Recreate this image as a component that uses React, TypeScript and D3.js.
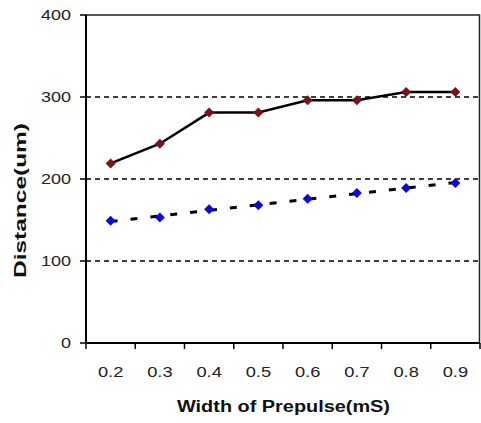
import React from "react";
import * as d3 from "d3";

const categories = ["0.2", "0.3", "0.4", "0.5", "0.6", "0.7", "0.8", "0.9"];
const redSeries = [219, 243, 281, 281, 296, 296, 306, 306];
const blueSeries = [149, 153, 163, 168, 176, 183, 189, 195];
const yTicks = [0, 100, 200, 300, 400];
const gridValues = [100, 200, 300];
const xTitle = "Width of Prepulse(mS)";
const yTitle = "Distance(um)";

const W = 481;
const H = 423;
const left = 86;
const right = 480;
const top = 15;
const bottom = 343;

export default function App() {
  const x = d3.scaleBand<string>().domain(categories).range([left, right]).padding(0);
  const y = d3.scaleLinear().domain([0, 400]).range([bottom, top]);
  const cx = (c: string) => (x(c) as number) + x.bandwidth() / 2;

  const line = d3
    .line<number>()
    .x((_, i) => cx(categories[i]))
    .y((d) => y(d));

  // linear trendline of the blue series
  const idx = blueSeries.map((_, i) => i);
  const mx = d3.mean(idx) as number;
  const my = d3.mean(blueSeries) as number;
  const sxy = d3.sum(idx, (i) => (i - mx) * (blueSeries[i] - my));
  const sxx = d3.sum(idx, (i) => (i - mx) * (i - mx));
  const slope = sxy / sxx;
  const inter = my - slope * mx;
  const trend = idx.map((i) => inter + slope * i);

  const diamond = (px: number, py: number, r: number) =>
    `M${px},${py - r}L${px + r},${py}L${px},${py + r}L${px - r},${py}Z`;

  const boundaries = d3.range(categories.length + 1).map((k) => left + k * x.bandwidth());

  return (
    <svg
      width={W}
      height={H}
      style={{ position: "absolute", left: 0, top: 0, background: "#fff" }}
      fontFamily="'Liberation Sans', Arial, sans-serif"
    >
      <rect x={0} y={0} width={W} height={H} fill="#fff" />
      {gridValues.map((v) => (
        <line
          key={v}
          x1={left}
          x2={right}
          y1={y(v)}
          y2={y(v)}
          stroke="#000"
          strokeWidth={1.5}
          strokeDasharray="5,4"
        />
      ))}
      {/* plot frame */}
      <rect x={left} y={top} width={right - left - 0.5} height={bottom - top} fill="none" stroke="#222" strokeWidth={1.5} />
      <line x1={left} x2={left} y1={top} y2={bottom} stroke="#000" strokeWidth={2} />
      <line x1={left} x2={right} y1={bottom} y2={bottom} stroke="#000" strokeWidth={2} />
      {yTicks.map((v) => (
        <g key={v}>
          <line x1={left - 6} x2={left} y1={y(v)} y2={y(v)} stroke="#000" strokeWidth={1.5} />
          <text
            transform={`translate(71,${y(v)}) scale(1.2,1)`}
            textAnchor="end"
            dy="0.36em"
            fontSize={15}
            fill="#222"
          >
            {v}
          </text>
        </g>
      ))}
      {boundaries.map((bx, i) => (
        <line key={i} x1={bx} x2={bx} y1={bottom} y2={bottom + 6} stroke="#000" strokeWidth={1.5} />
      ))}
      {categories.map((c) => (
        <text
          key={c}
          transform={`translate(${cx(c)},377) scale(1.22,1)`}
          textAnchor="middle"
          fontSize={15}
          fill="#222"
        >
          {c}
        </text>
      ))}
      {/* trendline */}
      <path d={line(trend) as string} fill="none" stroke="#000" strokeWidth={3} strokeDasharray="7,13" />
      {/* red series */}
      <path d={line(redSeries) as string} fill="none" stroke="#000" strokeWidth={2.5} />
      {redSeries.map((v, i) => (
        <path key={i} d={diamond(cx(categories[i]), y(v), 5)} fill="#7a1216" />
      ))}
      {blueSeries.map((v, i) => (
        <path key={i} d={diamond(cx(categories[i]), y(v), 5)} fill="#0a0ad8" />
      ))}
      <text
        x={283.5}
        y={411.5}
        textAnchor="middle"
        fontSize={16}
        fontWeight="bold"
        fill="#111"
        textLength={213}
        lengthAdjust="spacingAndGlyphs"
      >
        {xTitle}
      </text>
      <text
        transform={`translate(26,200.5) rotate(-90)`}
        textAnchor="middle"
        fontSize={17}
        fontWeight="bold"
        fill="#111"
        textLength={155}
        lengthAdjust="spacingAndGlyphs"
      >
        {yTitle}
      </text>
    </svg>
  );
}
